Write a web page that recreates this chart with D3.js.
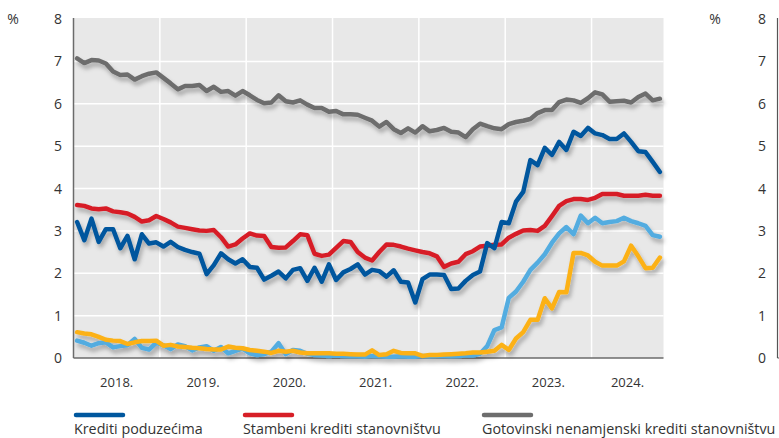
<!DOCTYPE html>
<html><head><meta charset="utf-8">
<script src="https://cdn.jsdelivr.net/npm/d3@7"></script>
<style>
body{margin:0;background:#fff}
svg{display:block}
text{font-family:"Open Sans","Noto Sans",sans-serif;fill:#333}
</style>
</head><body>
<svg id="c" width="779" height="438"></svg>
<script>
// ---- data (monthly, Jan 2018 – Oct 2024) ----
const years = ["2018.","2019.","2020.","2021.","2022.","2023.","2024."];
const yTicks = [0,1,2,3,4,5,6,7,8];
const seriesNames = ["Krediti poduzećima","Stambeni krediti stanovništvu","Gotovinski nenamjenski krediti stanovništvu"];

const krediti_poduzecima = [
3.21,2.78,3.29,2.74,3.04,3.04,2.59,2.88,2.33,2.92,2.70,2.73,2.63,2.74,2.62,2.55,2.50,2.46,1.98,2.19,2.47,
2.33,2.23,2.33,2.15,2.13,1.85,1.94,2.04,1.88,2.08,2.12,1.82,2.13,1.80,2.21,1.84,2.02,2.10,2.21,1.97,2.08,
2.05,1.92,2.07,1.80,1.78,1.31,1.86,1.97,1.97,1.96,1.63,1.64,1.82,1.96,2.04,2.71,2.59,3.21,3.18,3.69,
3.92,4.67,4.55,4.96,4.79,5.10,4.91,5.34,5.24,5.43,5.30,5.26,5.17,5.17,5.30,5.10,4.88,4.86,4.63,4.39];

const stambeni_krediti = [
3.61,3.59,3.53,3.51,3.53,3.46,3.44,3.41,3.33,3.22,3.25,3.35,3.28,3.20,3.10,3.07,3.04,3.01,3.00,3.02,2.85,
2.63,2.68,2.82,2.94,2.89,2.88,2.62,2.60,2.61,2.76,2.92,2.90,2.46,2.41,2.44,2.60,2.76,2.74,2.50,2.37,2.30,
2.50,2.68,2.67,2.63,2.58,2.54,2.50,2.47,2.40,2.15,2.23,2.27,2.45,2.52,2.63,2.65,2.67,2.68,2.84,2.93,
3.01,3.02,3.00,3.12,3.35,3.59,3.70,3.75,3.75,3.73,3.78,3.87,3.87,3.87,3.83,3.83,3.83,3.85,3.83,3.83];

const gotovinski_krediti = [
7.07,6.96,7.03,7.02,6.95,6.76,6.68,6.69,6.57,6.65,6.71,6.74,6.61,6.48,6.34,6.42,6.42,6.44,6.30,6.40,6.28,
6.30,6.19,6.30,6.20,6.09,6.01,6.03,6.20,6.06,6.03,6.08,5.98,5.90,5.90,5.81,5.83,5.75,5.75,5.74,5.67,5.60,
5.46,5.57,5.40,5.31,5.42,5.32,5.47,5.35,5.38,5.43,5.34,5.32,5.21,5.40,5.53,5.47,5.42,5.40,5.52,5.57,
5.60,5.64,5.78,5.85,5.85,6.04,6.10,6.08,6.02,6.13,6.27,6.22,6.05,6.06,6.07,6.03,6.16,6.24,6.08,6.12];

const serija_svijetloplava = [
0.41,0.36,0.29,0.35,0.37,0.25,0.28,0.30,0.45,0.24,0.20,0.36,0.30,0.21,0.32,0.28,0.18,0.25,0.28,0.17,0.26,
0.11,0.17,0.22,0.11,0.07,0.09,0.15,0.35,0.09,0.19,0.17,0.10,0.07,0.06,0.05,0.06,0.05,0.04,0.04,0.03,0.05,
0.04,0.03,0.03,0.04,0.03,0.03,0.05,0.04,0.05,0.05,0.04,0.05,0.06,0.06,0.10,0.28,0.66,0.72,1.42,1.57,
1.80,2.08,2.25,2.45,2.72,2.94,3.09,2.92,3.36,3.18,3.31,3.18,3.21,3.23,3.31,3.23,3.18,3.12,2.90,2.86];

const serija_narandzasta = [
0.61,0.58,0.56,0.50,0.43,0.41,0.40,0.33,0.37,0.40,0.40,0.41,0.29,0.31,0.27,0.26,0.24,0.23,0.21,0.20,0.20,
0.27,0.24,0.23,0.19,0.17,0.15,0.12,0.17,0.15,0.17,0.13,0.11,0.11,0.11,0.11,0.10,0.10,0.09,0.08,0.08,0.18,
0.07,0.09,0.17,0.12,0.11,0.11,0.05,0.07,0.07,0.08,0.09,0.10,0.11,0.13,0.13,0.15,0.17,0.31,0.19,0.46,
0.61,0.90,0.90,1.41,1.17,1.56,1.55,2.48,2.48,2.42,2.27,2.18,2.18,2.18,2.28,2.65,2.40,2.12,2.13,2.37];

// ---- layout ----
const L = 73.5, R = 663.5, T = 19, B = 358;
const nM = krediti_poduzecima.length;

const svg = d3.select("#c");
const defs = svg.append("defs");
const f = defs.append("filter").attr("id","sh").attr("x","-10%").attr("y","-20%").attr("width","130%").attr("height","160%");
f.append("feDropShadow").attr("dx",2).attr("dy",4).attr("stdDeviation",2.2)
 .attr("flood-color","#000").attr("flood-opacity",0.28);

const x = d3.scaleBand().domain(d3.range(nM)).range([L,R]);
const bw = x.bandwidth();
const xc = i => x(i) + bw/2;
const y = d3.scaleLinear().domain([0,8]).range([B,T]);

// background
svg.append("rect").attr("x",L).attr("y",T-1).attr("width",R-L).attr("height",B-T+1).attr("fill","#e8e8e8");

// horizontal grid
svg.append("g").selectAll("line").data(yTicks.filter(d=>d>0 && d<8)).join("line")
  .attr("x1",L).attr("x2",R).attr("y1",d=>y(d)).attr("y2",d=>y(d))
  .attr("stroke","#fff").attr("stroke-width",1.5);
// vertical grid at year boundaries
svg.append("g").selectAll("line").data(d3.range(1,years.length)).join("line")
  .attr("x1",k=>x(k*12)).attr("x2",k=>x(k*12)).attr("y1",T-1).attr("y2",B)
  .attr("stroke","#fff").attr("stroke-width",1.5);

// axes lines
svg.append("line").attr("x1",L).attr("x2",L).attr("y1",T-1).attr("y2",B).attr("stroke","#6b6b6b").attr("stroke-width",1.5);
svg.append("line").attr("x1",L).attr("x2",R).attr("y1",B).attr("y2",B).attr("stroke","#6b6b6b").attr("stroke-width",1.5);

// left y labels
svg.append("g").selectAll("text").data(yTicks).join("text")
  .attr("x",62).attr("y",d=>y(d)).attr("dy","0.36em").attr("text-anchor","end")
  .attr("font-size",14).text(d=>d);
svg.append("text").attr("x",13).attr("y",y(8)).attr("dy","0.36em").attr("text-anchor","middle").attr("font-size",14).text("%");

// right axis (neighbouring chart)
svg.append("g").selectAll("text").data(yTicks).join("text")
  .attr("x",766).attr("y",d=>y(d)).attr("dy","0.36em").attr("text-anchor","end")
  .attr("font-size",14).text(d=>d);
svg.append("text").attr("x",715).attr("y",y(8)).attr("dy","0.36em").attr("text-anchor","middle").attr("font-size",14).text("%");
svg.append("line").attr("x1",777.5).attr("x2",777.5).attr("y1",T-1).attr("y2",B).attr("stroke","#555").attr("stroke-width",1.2);
svg.append("line").attr("x1",777.5).attr("x2",779).attr("y1",B).attr("y2",B).attr("stroke","#555").attr("stroke-width",1.2);

// year labels
svg.append("g").selectAll("text").data(years).join("text")
  .attr("x",(d,k)=>{const a=k*12, b=Math.min(k*12+11,nM-1); return (x(a)+x(b)+bw)/2;})
  .attr("y",387).attr("text-anchor","middle").attr("font-size",13).attr("fill","#222").text(d=>d);

// lines
const line = d3.line().x((d,i)=>xc(i)).y(d=>y(d));
const series = [
  {v:serija_svijetloplava, c:"#52ace0"},
  {v:serija_narandzasta, c:"#fcb116"},
  {v:stambeni_krediti, c:"#d71f27"},
  {v:krediti_poduzecima, c:"#00579e"},
  {v:gotovinski_krediti, c:"#6d6d6d"}
];
const g = svg.append("g").attr("filter","url(#sh)");
g.selectAll("path").data(series).join("path")
  .attr("d",d=>line(d.v)).attr("fill","none").attr("stroke",d=>d.c)
  .attr("stroke-width",4.5).attr("stroke-linejoin","round").attr("stroke-linecap","round");

// legend
const leg = [
  {name:seriesNames[0], c:"#00579e", x:74},
  {name:seriesNames[1], c:"#d71f27", x:243},
  {name:seriesNames[2], c:"#6d6d6d", x:482}
];
const lg = svg.append("g").selectAll("g").data(leg).join("g");
lg.append("line").attr("x1",d=>d.x+2).attr("x2",d=>d.x+49).attr("y1",415).attr("y2",415)
  .attr("stroke",d=>d.c).attr("stroke-width",4.5).attr("stroke-linecap","round");
lg.append("text").attr("x",d=>d.x).attr("y",433.5).attr("font-size",14.3).attr("fill","#222").text(d=>d.name);
</script>
</body></html>
